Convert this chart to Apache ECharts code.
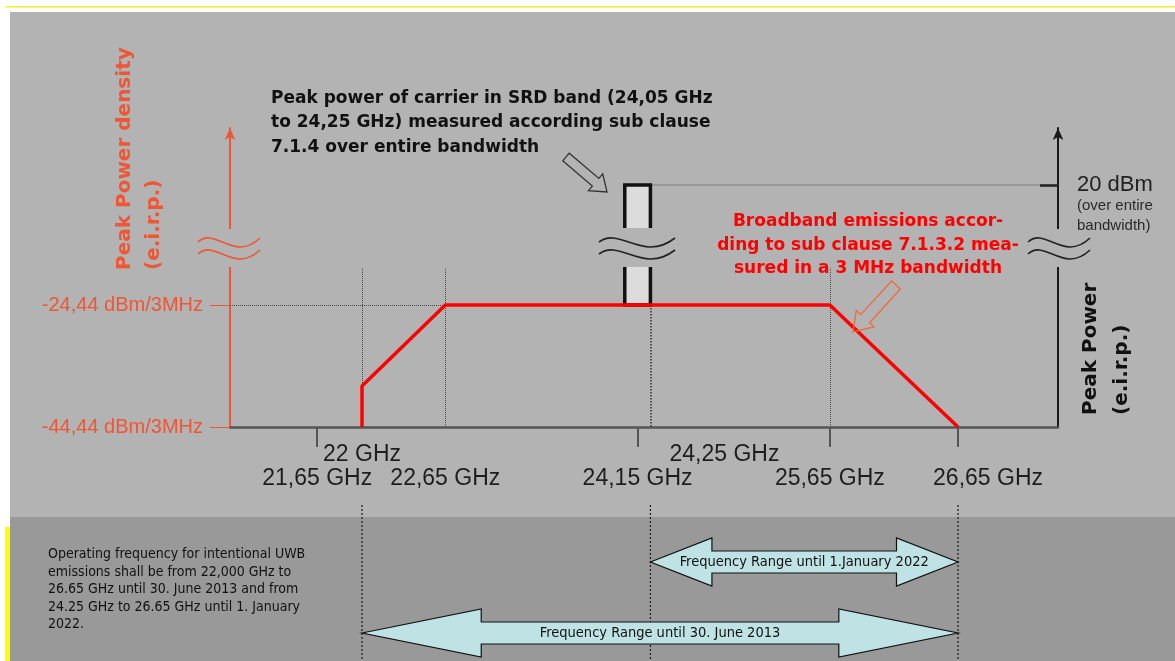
<!DOCTYPE html>
<html>
<head>
<meta charset="utf-8">
<title>24 GHz UWB emission mask</title>
<script src="https://cdn.jsdelivr.net/npm/echarts@6/dist/echarts.min.js"></script>
<style>
  html, body { margin: 0; padding: 0; background: #fff; }
  #chart { width: 1175px; height: 661px; }
</style>
</head>
<body>
<div id="chart"></div>
<script>
// frequencies in GHz, levels in dBm/3MHz (left axis) and dBm (right axis)
const maskFreq = [22, 22, 22.65, 25.65, 26.65];
const maskLevel = [-44.44, -37.7, -24.44, -24.44, -44.44];

const srdBand = [24.05, 24.25];   // carrier box, GHz
const srdPeak = 20;               // dBm over entire bandwidth
const srdBase = -24.44;           // box sits on the mask plateau

const tickFreq = [21.65, 24.15, 25.65, 26.65];
const lowerTicks = [21.65, 22.65, 24.15, 25.65, 26.65];
const lowerTickLabels = ['21,65 GHz', '22,65 GHz', '24,15 GHz', '25,65 GHz', '26,65 GHz'];
const upperTicks = [22, 24.25];
const upperTickLabels = ['22 GHz', '24,25 GHz'];

const levelTicks = [-44.44, -24.44];
const levelLabels = ['-44,44 dBm/3MHz', '-24,44 dBm/3MHz'];

const guideFreq = [22, 22.65, 25.65];  // dotted verticals up to the axis break
const breakLevel = -18.4;               // where the axes are cut

const rangeNames = ['Frequency Range until 30. June 2013', 'Frequency Range until 1.January 2022'];
const rangeStart = [22, 24.25];
const rangeEnd = [26.65, 26.65];
const rangeGuides = [22, 24.25, 26.65];

const X_MIN = 20.97, X_MAX = 27.43;
const L_MIN = -44.44, L_MAX = 4.58;
const R_MIN = -20, R_MAX = 29.42;

const FONT = "'Liberation Sans', Arial, sans-serif";
const WIDE = "'DejaVu Sans', Verdana, sans-serif";
const NARROW = "'Liberation Sans Narrow', 'DejaVu Sans Condensed', 'Liberation Sans', sans-serif";
const ORANGE = '#ef5634';
const PANEL = '#b3b3b3';

function leftToRight(v) {
  return R_MIN + (v - L_MIN) / (L_MAX - L_MIN) * (R_MAX - R_MIN);
}
function labelFor(values, labels, v) {
  const i = values.findIndex(t => Math.abs(t - v) < 1e-6);
  return i < 0 ? '' : labels[i];
}
function hollowArrow(x1, y1, x2, y2, sh, hh, hl) {
  const len = Math.hypot(x2 - x1, y2 - y1);
  const ux = (x2 - x1) / len, uy = (y2 - y1) / len, nx = -uy, ny = ux;
  const bx = x2 - ux * hl, by = y2 - uy * hl;
  return [[x1 + nx * sh, y1 + ny * sh], [bx + nx * sh, by + ny * sh], [bx + nx * hh, by + ny * hh],
    [x2, y2], [bx - nx * hh, by - ny * hh], [bx - nx * sh, by - ny * sh], [x1 - nx * sh, y1 - ny * sh]];
}
// "≈" break sign
function squiggle(cx, color, w) {
  return [241, 253].map(cy => ({
    type: 'bezierCurve', z: 51,
    shape: { x1: cx - w, y1: cy + 1, cpx1: cx - w * 0.45, cpy1: cy - 15, cpx2: cx + w * 0.15, cpy2: cy + 22, x2: cx + w, y2: cy - 3 },
    style: { stroke: color, lineWidth: 1.6, fill: null }
  }));
}
function text(x, y, str, font, fill, opts) {
  opts = opts || {};
  return {
    type: 'text', x: x, y: y, z: 30, rotation: opts.rotation || 0,
    style: {
      text: str, font: font, fill: fill,
      align: opts.align || 'left', verticalAlign: opts.verticalAlign || 'top',
      lineHeight: opts.lineHeight
    }
  };
}

const chart = echarts.init(document.getElementById('chart'));

const option = {
  animation: false,
  backgroundColor: '#ffffff',
  grid: [
    { left: 230, right: 117, top: 128, bottom: 234 },
    { left: 230, right: 117, top: 562, bottom: 28 }
  ],
  xAxis: [
    {
      gridIndex: 0, type: 'value', min: X_MIN, max: X_MAX, position: 'bottom',
      axisLine: { onZero: false, lineStyle: { color: '#555', width: 2.5 } },
      axisTick: { customValues: tickFreq, length: 20, lineStyle: { color: '#555', width: 2 } },
      axisLabel: {
        customValues: lowerTicks, margin: 40, fontSize: 23, fontFamily: FONT, color: '#1e1e1e',
        formatter: v => {
          const t = labelFor(lowerTicks, lowerTickLabels, v);
          return Math.abs(v - 26.65) < 1e-6 ? '{shift|' + t + '}' : t;
        },
        rich: { shift: { padding: [0, 0, 0, 60], fontSize: 23, fontFamily: FONT, color: '#1e1e1e' } }
      },
      splitLine: { show: false }
    },
    {
      gridIndex: 0, type: 'value', min: X_MIN, max: X_MAX, position: 'bottom',
      axisLine: { show: false }, axisTick: { show: false },
      axisLabel: {
        customValues: upperTicks, margin: 16, fontSize: 23, fontFamily: FONT, color: '#1e1e1e',
        formatter: v => {
          const t = labelFor(upperTicks, upperTickLabels, v);
          return Math.abs(v - 24.25) < 1e-6 ? '{shift|' + t + '}' : t;
        },
        rich: { shift: { padding: [0, 0, 0, 148], fontSize: 23, fontFamily: FONT, color: '#1e1e1e' } }
      },
      splitLine: { show: false }
    },
    { gridIndex: 1, type: 'value', min: X_MIN, max: X_MAX, show: false }
  ],
  yAxis: [
    {
      gridIndex: 0, type: 'value', min: L_MIN, max: L_MAX, position: 'left',
      axisLine: { show: true, onZero: false, symbol: ['none', 'arrow'], symbolSize: [8, 12], lineStyle: { color: ORANGE, width: 2 } },
      axisTick: { show: true, customValues: levelTicks, length: 20, lineStyle: { color: ORANGE, width: 1 } },
      axisLabel: {
        customValues: levelTicks, margin: 27, fontSize: 20, fontFamily: FONT, color: ORANGE,
        formatter: v => labelFor(levelTicks, levelLabels, v)
      },
      splitLine: { show: false }
    },
    {
      gridIndex: 0, type: 'value', min: R_MIN, max: R_MAX, position: 'right',
      axisLine: { show: true, onZero: false, symbol: ['none', 'arrow'], symbolSize: [8, 12], lineStyle: { color: '#1a1a1a', width: 2 } },
      axisTick: { show: true, inside: true, customValues: [srdPeak], length: 18, lineStyle: { color: '#1a1a1a', width: 2.5 } },
      axisLabel: { customValues: [srdPeak], margin: 19, fontSize: 22, fontFamily: FONT, color: '#222', formatter: v => v + ' dBm' },
      splitLine: { show: false }
    },
    // bottom row = 2013 range, top row = 2022 range
    { gridIndex: 1, type: 'category', data: rangeNames, boundaryGap: false, show: false }
  ],
  series: [
    {
      name: 'carrier', type: 'custom', xAxisIndex: 0, yAxisIndex: 1, z: 4, silent: true,
      data: [[srdBand[0], srdBand[1], srdPeak]],
      renderItem: (params, api) => {
        const tl = api.coord([api.value(0), api.value(2)]);
        const br = api.coord([api.value(1), leftToRight(srdBase)]);
        return {
          type: 'rect',
          shape: { x: tl[0], y: tl[1], width: br[0] - tl[0], height: br[1] - tl[1] },
          style: { fill: '#dcdcdc', stroke: '#111', lineWidth: 3.5 }
        };
      }
    },
    {
      name: 'peak level', type: 'line', xAxisIndex: 0, yAxisIndex: 1, z: 3, silent: true,
      symbol: 'none', data: [[srdBand[1], srdPeak], [X_MAX, srdPeak]],
      lineStyle: { type: 'dotted', color: '#4a4a4a', width: 1 }
    },
    {
      name: 'mask', type: 'line', xAxisIndex: 0, yAxisIndex: 0, z: 6, silent: true,
      symbol: 'none',
      data: maskFreq.map((f, i) => [f, maskLevel[i]]),
      lineStyle: { color: '#ff0000', width: 3.5 },
      markLine: {
        silent: true, z: 3, symbol: ['none', 'none'], label: { show: false },
        lineStyle: { type: 'dotted', color: '#4a4a4a', width: 1 },
        data: guideFreq.map(f => [{ coord: [f, L_MIN] }, { coord: [f, breakLevel] }])
          .concat([
            [{ coord: [srdBand[1], srdBase] }, { coord: [srdBand[1], L_MIN], lineStyle: { width: 1.5, color: '#333' } }],
            [{ coord: [X_MIN, maskLevel[2]] }, { coord: [maskFreq[2], maskLevel[2]] }]
          ])
      }
    },
    {
      name: 'range guides', type: 'custom', xAxisIndex: 2, yAxisIndex: 2, z: 2, silent: true,
      data: rangeGuides.map(f => [f]),
      renderItem: (params, api) => {
        const x = api.coord([api.value(0), 0])[0];
        const cs = params.coordSys;
        return {
          type: 'line',
          shape: { x1: x, y1: cs.y - 57, x2: x, y2: cs.y + cs.height + 28 },
          style: { stroke: '#1a1a1a', lineWidth: 1.2, lineDash: [2, 2] }
        };
      }
    },
    {
      name: 'ranges', type: 'custom', xAxisIndex: 2, yAxisIndex: 2, z: 4, silent: true,
      data: rangeStart.map((s, i) => [s, rangeEnd[i], i]),
      renderItem: (params, api) => {
        const a = api.coord([api.value(0), api.value(2)]);
        const b = api.coord([api.value(1), api.value(2)]);
        const x1 = a[0], x2 = b[0], cy = a[1];
        const hl = (x2 - x1) * 0.2, hh = 24, sh = 11;
        const pts = [[x1, cy], [x1 + hl, cy - hh], [x1 + hl, cy - sh], [x2 - hl, cy - sh], [x2 - hl, cy - hh], [x2, cy],
          [x2 - hl, cy + hh], [x2 - hl, cy + sh], [x1 + hl, cy + sh], [x1 + hl, cy + hh]];
        return {
          type: 'group',
          children: [
            { type: 'polygon', shape: { points: pts }, style: { fill: '#bfe2e5', stroke: '#111', lineWidth: 1.2 } },
            {
              type: 'text', x: (x1 + x2) / 2, y: cy,
              style: { text: rangeNames[params.dataIndex], font: '14.5px ' + NARROW, fill: '#111', align: 'center', verticalAlign: 'middle' }
            }
          ]
        };
      }
    }
  ],
  graphic: {
    elements: [
      // panels
      { type: 'rect', z: -10, shape: { x: 6, y: 6, width: 1169, height: 1.5 }, style: { fill: '#f2ee2a' } },
      { type: 'rect', z: -10, shape: { x: 10, y: 12, width: 1165, height: 505 }, style: { fill: PANEL } },
      { type: 'rect', z: -10, shape: { x: 10, y: 517, width: 1165, height: 144 }, style: { fill: '#999999' } },
      { type: 'rect', z: -10, shape: { x: 5, y: 527, width: 5, height: 134 }, style: { fill: '#ffff00' } },
      // axis breaks
      { type: 'rect', z: 50, shape: { x: 222, y: 229, width: 16, height: 38 }, style: { fill: PANEL } },
      { type: 'rect', z: 50, shape: { x: 1050, y: 229, width: 16, height: 38 }, style: { fill: PANEL } },
      { type: 'rect', z: 50, shape: { x: 618, y: 228, width: 40, height: 39 }, style: { fill: PANEL } }
    ].concat(
      squiggle(229, ORANGE, 31),
      squiggle(1059, '#222', 31),
      squiggle(637, '#222', 38),
      [
        // axis titles, reading bottom to top
        text(125, 270, 'Peak Power density', 'bold 20px ' + WIDE, ORANGE, { rotation: Math.PI / 2, verticalAlign: 'middle' }),
        text(154, 270, '(e.i.r.p.)', 'bold 20px ' + WIDE, ORANGE, { rotation: Math.PI / 2, verticalAlign: 'middle' }),
        text(1091, 415, 'Peak Power', 'bold 20px ' + WIDE, '#111', { rotation: Math.PI / 2, verticalAlign: 'middle' }),
        text(1122, 415, '(e.i.r.p.)', 'bold 20px ' + WIDE, '#111', { rotation: Math.PI / 2, verticalAlign: 'middle' }),
        // annotations
        text(271, 86, 'Peak power of carrier in SRD band (24,05 GHz\nto 24,25 GHz) measured according sub clause\n7.1.4 over entire bandwidth',
          'bold 17px ' + WIDE, '#111', { lineHeight: 24.5 }),
        text(868, 210, 'Broadband emissions accor-\nding to sub clause 7.1.3.2 mea-\nsured in a 3 MHz bandwidth',
          'bold 17px ' + WIDE, '#ff0000', { align: 'center', lineHeight: 23.5 }),
        text(1077, 196, '(over entire\nbandwidth)', '15px ' + FONT, '#2a2a2a', { lineHeight: 20 }),
        text(48, 546, 'Operating frequency for intentional UWB\nemissions shall be from 22,000 GHz to\n26.65 GHz until 30. June 2013 and from\n24.25 GHz to 26.65 GHz until 1. January\n2022.',
          '14px ' + NARROW, '#111', { lineHeight: 17.5 }),
        // pointer arrows
        { type: 'polygon', z: 30, shape: { points: hollowArrow(566, 157, 607, 192, 5, 11, 15) }, style: { fill: 'rgba(0,0,0,0)', stroke: '#333', lineWidth: 1.3 } },
        { type: 'polygon', z: 30, shape: { points: hollowArrow(896, 285, 853, 332, 6, 12, 18) }, style: { fill: 'rgba(0,0,0,0)', stroke: '#f06a3c', lineWidth: 1.3 } }
      ]
    )
  }
};

chart.setOption(option);
</script>
</body>
</html>
